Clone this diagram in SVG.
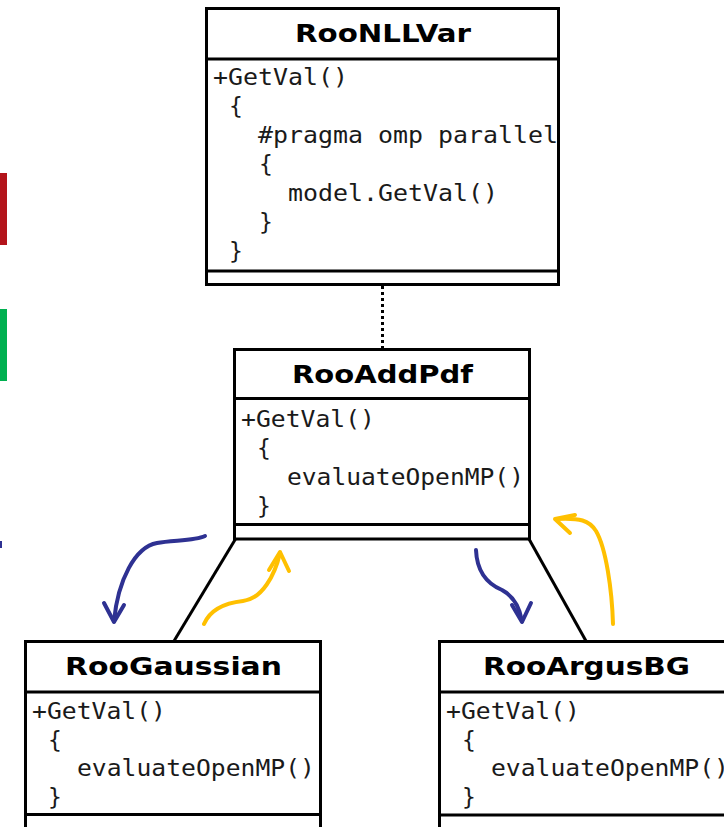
<svg xmlns="http://www.w3.org/2000/svg" width="724" height="827" viewBox="0 0 724 827">
<style>
.box{fill:#fff;stroke:#000;stroke-width:3}
.ln{stroke:#000;stroke-width:3;fill:none}
.title{font-family:"DejaVu Sans",sans-serif;font-weight:bold;font-size:25px;fill:#000}
.code{font-family:"DejaVu Sans Mono",monospace;font-size:23px;fill:#1a1a1a}
.blue{stroke:#2E3192;stroke-width:4;fill:none;stroke-linecap:round;stroke-linejoin:round}
.yel{stroke:#FFC000;stroke-width:4;fill:none;stroke-linecap:round;stroke-linejoin:round}
</style>
<rect width="724" height="827" fill="#fff"/>
<g id="marks">
<rect x="0" y="173" width="7" height="72" fill="#B3141B"/>
<rect x="0" y="309" width="7" height="72" fill="#00B050"/>
<rect x="0" y="541" width="2" height="7" fill="#2E3192"/>
</g>
<g id="connectors">
<line x1="382.5" y1="286" x2="382.5" y2="348" stroke="#000" stroke-width="3" stroke-dasharray="3,3"/>
<line class="ln" x1="235.5" y1="539" x2="174" y2="641"/>
<line class="ln" x1="529" y1="539" x2="586" y2="641"/>
<path class="blue" d="M205,536 C195,541 172,540 157,543 C135,547 118,580 114,621"/>
<path class="blue" d="M104,603 L114,622 L124,605"/>
<path class="yel" d="M204,624 C210,610 225,603 243,601 C262,599 275,575 280,553"/>
<path class="yel" d="M269,570 L280,552 L289,571"/>
<path class="blue" d="M476,550 C477,575 490,585 502,590 C515,597 520,610 522,621"/>
<path class="blue" d="M512,605 L522,622 L531,603"/>
<path class="yel" d="M613,624 C612,590 606,548 596,531 C589,520 580,518 557,519"/>
<path class="yel" d="M575,515 L555,519 L570,533"/>
</g>
<g id="RooNLLVar">
<rect class="box" x="206.5" y="8.5" width="352" height="276"/>
<line class="ln" x1="206.5" y1="59" x2="558.5" y2="59"/>
<line class="ln" x1="206.5" y1="271" x2="558.5" y2="271"/>
<text class="title" x="295" y="42" textLength="176" lengthAdjust="spacingAndGlyphs">RooNLLVar</text>
<text class="code" x="213" y="85" textLength="135" lengthAdjust="spacingAndGlyphs">+GetVal()</text>
<text class="code" x="229" y="114">{</text>
<text class="code" x="258" y="143" textLength="300" lengthAdjust="spacingAndGlyphs">#pragma omp parallel</text>
<text class="code" x="259" y="172">{</text>
<text class="code" x="288" y="201" textLength="210" lengthAdjust="spacingAndGlyphs">model.GetVal()</text>
<text class="code" x="259" y="230">}</text>
<text class="code" x="229" y="259">}</text>
</g>
<g id="RooAddPdf">
<rect class="box" x="234.5" y="349.5" width="295" height="189.5"/>
<line class="ln" x1="234.5" y1="398.5" x2="529.5" y2="398.5"/>
<line class="ln" x1="234.5" y1="524.5" x2="529.5" y2="524.5"/>
<text class="title" x="292" y="383" textLength="181" lengthAdjust="spacingAndGlyphs">RooAddPdf</text>
<text class="code" x="241" y="427" textLength="134" lengthAdjust="spacingAndGlyphs">+GetVal()</text>
<text class="code" x="257" y="456">{</text>
<text class="code" x="287" y="485" textLength="237" lengthAdjust="spacingAndGlyphs">evaluateOpenMP()</text>
<text class="code" x="257" y="514">}</text>
</g>
<g id="RooGaussian">
<rect class="box" x="25.5" y="641.5" width="295" height="200"/>
<line class="ln" x1="25.5" y1="692" x2="320.5" y2="692"/>
<line class="ln" x1="25.5" y1="814.5" x2="320.5" y2="814.5"/>
<text class="title" x="65" y="675" textLength="217" lengthAdjust="spacingAndGlyphs">RooGaussian</text>
<text class="code" x="32" y="719" textLength="134" lengthAdjust="spacingAndGlyphs">+GetVal()</text>
<text class="code" x="48" y="748">{</text>
<text class="code" x="77" y="776" textLength="238" lengthAdjust="spacingAndGlyphs">evaluateOpenMP()</text>
<text class="code" x="48" y="805">}</text>
</g>
<g id="RooArgusBG">
<rect class="box" x="439.5" y="641.5" width="320" height="200"/>
<line class="ln" x1="439.5" y1="692" x2="760" y2="692"/>
<line class="ln" x1="439.5" y1="815" x2="760" y2="815"/>
<text class="title" x="483" y="675" textLength="207" lengthAdjust="spacingAndGlyphs">RooArgusBG</text>
<text class="code" x="446" y="719" textLength="134" lengthAdjust="spacingAndGlyphs">+GetVal()</text>
<text class="code" x="462" y="748">{</text>
<text class="code" x="491" y="776" textLength="238" lengthAdjust="spacingAndGlyphs">evaluateOpenMP()</text>
<text class="code" x="462" y="805">}</text>
</g>
</svg>
